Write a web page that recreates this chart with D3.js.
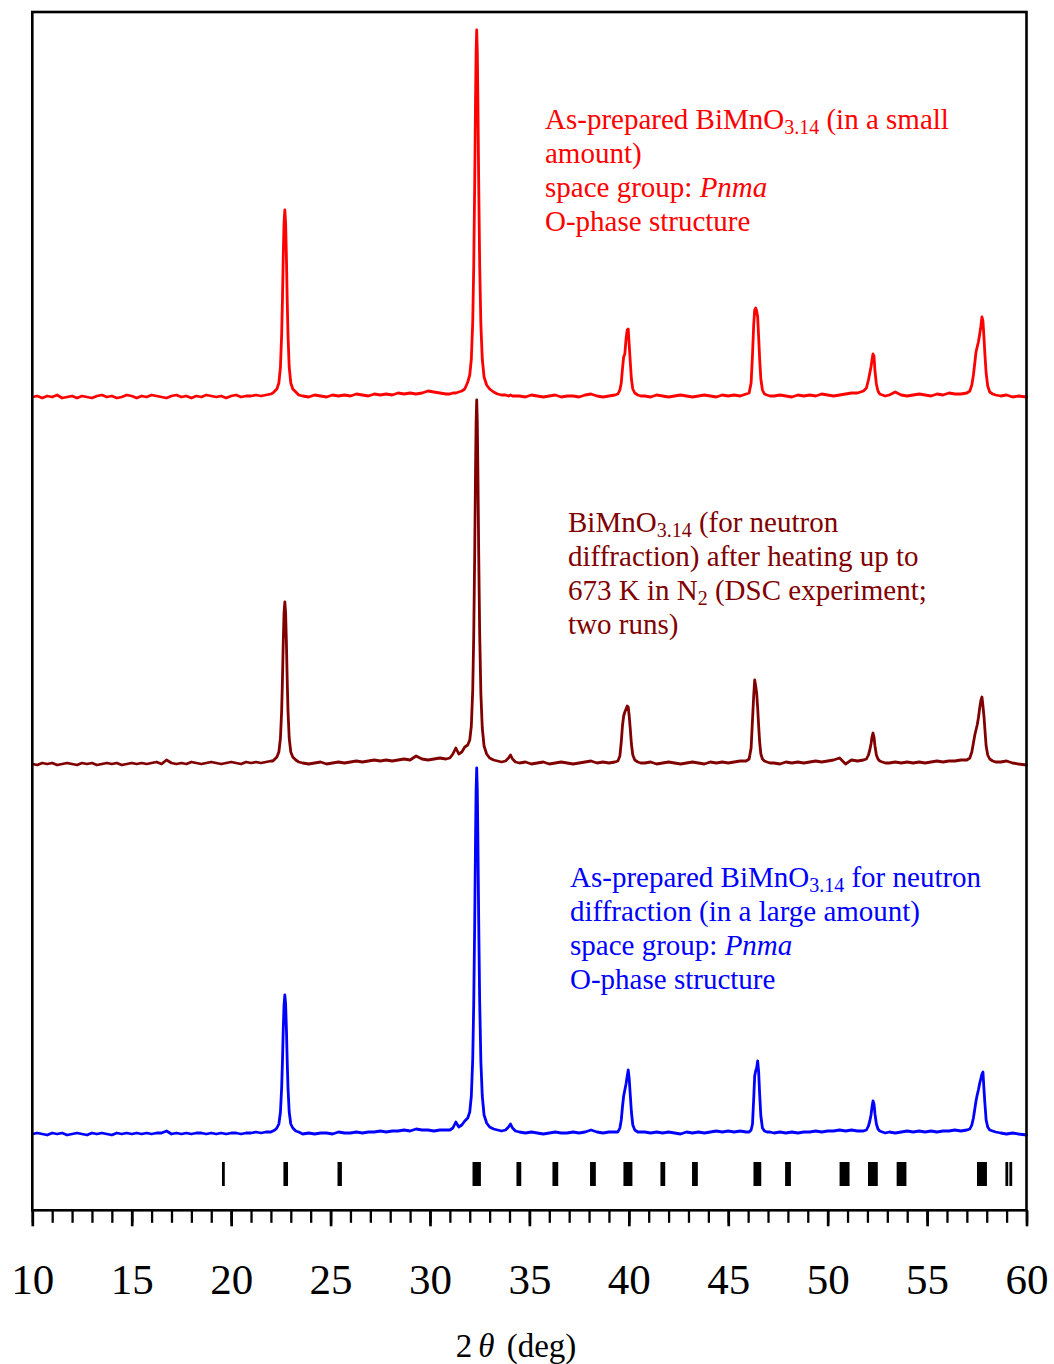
<!DOCTYPE html>
<html>
<head>
<meta charset="utf-8">
<script src="https://cdn.jsdelivr.net/npm/d3@7"></script>
<style>
  html, body { margin: 0; padding: 0; background: #fff; }
  svg { display: block; }
  text { font-family: "Liberation Serif", "Times New Roman", Times, serif; }
</style>
</head>
<body>
<script>
// ---- DATA ----
// 2θ grid (deg), shared by the three patterns
const twoTheta = [
  10,10.25,10.5,10.75,11,11.25,11.5,11.75,12,12.25,12.5,12.75,13,13.25,13.5,13.75,14,14.25,14.5,14.75,15,15.25,15.5,15.75,16,16.25,16.5,16.75,17,17.25,17.5,17.75,18,18.25,18.5,18.75,19,19.25,19.5,19.75,20,20.25,20.5,20.75,21,21.25,21.5,21.75,22,
  22.1,22.2,22.3,22.4,22.48,22.54,22.58,22.62,22.66,22.7,22.74,22.78,22.82,22.86,22.92,23,23.1,23.25,23.4,
  23.6,23.9,24.2,24.5,24.8,25.1,25.4,25.7,26,26.3,26.6,26.9,27.2,27.5,27.8,28.1,28.4,28.7,29,29.3,29.6,29.9,30.2,30.5,30.8,
  31,31.15,31.3,31.45,31.6,31.75,31.9,32,32.08,32.15,32.2,32.25,32.29,32.32,32.35,32.38,32.41,32.45,32.5,32.56,32.63,32.72,32.85,33,33.2,33.4,33.6,33.8,33.95,34.05,34.15,34.3,
  34.5,34.8,35.1,35.4,35.7,36,36.3,36.6,36.9,37.2,37.5,37.8,38.1,38.4,38.7,39,39.3,
  39.45,39.55,39.62,39.68,39.74,39.8,39.86,39.92,39.97,40.02,40.07,40.13,40.2,40.3,40.45,40.6,
  40.8,41.1,41.4,41.7,42,42.3,42.6,42.9,43.2,43.5,43.8,44.1,44.4,44.7,45,45.3,45.6,45.9,
  46.05,46.15,46.22,46.28,46.33,46.38,46.43,46.48,46.53,46.58,46.64,46.72,46.82,46.95,47.1,
  47.3,47.6,47.9,48.2,48.5,48.8,49.1,49.4,49.7,50,50.3,50.6,50.9,51.2,51.5,51.8,
  51.95,52.05,52.12,52.18,52.23,52.28,52.33,52.38,52.45,52.53,52.62,52.75,52.9,
  53.1,53.4,53.7,54,54.3,54.6,54.9,55.2,55.5,55.8,56.1,56.4,56.7,57,
  57.15,57.25,57.33,57.4,57.46,57.52,57.58,57.64,57.7,57.76,57.81,57.86,57.91,57.97,58.05,58.15,58.3,58.45,
  58.7,59,59.3,59.6,60
];

// Intensities (arb. units) above each pattern's own baseline
const redIntensity = [
  0,1,-1,1,0,2,-1,0,1,-1,1,0,-1,1,2,0,1,-1,0,2,1,-1,1,0,2,1,0,-1,1,2,0,1,-1,1,0,2,1,0,1,-1,1,2,0,1,1,2,1,2,3,
  4,6,8,14,30,62,97,140,174,187,174,140,97,62,30,14,8,5,2,
  1,0,2,1,0,2,1,2,1,3,2,1,3,2,3,2,4,3,4,3,4,6,5,4,3,
  3,4,4,5,6,8,15,22,38,75,130,215,295,345,367,345,295,215,132,72,38,20,12,8,5,3,2,2,1,2,1,1,
  1,0,2,1,0,1,2,0,1,1,0,2,3,1,0,1,2,
  3,7,14,28,40,43,58,67,68,52,36,18,8,4,2,1,
  1,0,2,1,0,1,2,1,0,1,2,1,0,2,1,2,1,3,
  4,14,42,72,87,89,86,80,60,38,18,7,3,2,1,
  1,2,1,0,2,1,2,1,3,2,1,2,3,4,4,6,
  9,17,24,30,37,43,41,26,13,6,3,2,1,
  2,5,2,1,2,3,2,1,3,2,4,3,3,4,
  6,12,22,34,45,50,55,62,70,80,76,60,42,24,11,5,3,2,
  1,2,0,1,0
];

const darkRedIntensity = [
  0,-1,1,0,1,-1,0,1,0,-1,1,0,1,-1,0,1,0,1,-1,0,1,0,1,0,1,2,0,4,1,0,1,0,2,1,0,1,2,1,0,1,2,1,0,2,1,2,1,2,3,
  3,5,7,12,26,53,84,121,151,162,151,121,84,53,26,12,7,4,2,
  1,0,1,2,0,1,2,1,2,3,2,3,4,3,4,3,4,5,4,8,5,4,5,6,5,
  6,10,16,10,12,17,19,24,38,74,128,212,292,342,364,342,292,212,130,70,36,18,10,6,4,3,2,3,6,9,5,2,
  1,2,0,1,2,0,1,2,1,0,1,2,3,1,2,1,2,
  3,8,22,38,48,52,55,58,57,48,36,20,9,4,2,1,
  1,2,0,1,2,1,0,1,2,1,0,2,1,2,1,2,3,3,
  5,16,44,68,84,78,71,56,38,22,10,5,3,2,1,
  1,0,2,1,2,1,2,3,2,3,4,6,0,4,3,4,
  5,9,14,20,27,31,27,18,9,5,3,2,1,
  1,2,1,2,1,2,1,2,3,2,3,3,4,4,
  6,12,21,29,34,39,46,55,63,67,58,48,34,18,9,5,3,2,
  2,3,1,0,-1
];

const blueIntensity = [
  0,1,0,-1,1,0,1,-1,0,1,0,-1,1,0,1,0,-1,1,0,1,0,1,0,1,0,1,1,3,0,1,0,1,0,1,1,0,1,0,1,0,1,1,0,1,1,2,1,2,2,
  3,4,6,10,22,46,72,104,129,139,130,105,73,46,22,10,6,3,2,
  0,1,0,1,1,0,2,1,1,2,1,2,2,3,2,3,3,4,3,5,4,4,3,4,4,
  4,6,12,7,9,13,16,22,38,75,130,213,294,344,366,344,294,214,132,72,38,19,11,7,5,4,3,4,7,10,6,3,
  2,1,2,1,0,1,2,1,1,2,1,2,4,2,1,2,2,
  2,6,14,27,38,44,50,58,64,55,40,22,9,4,2,2,
  2,1,2,1,2,1,0,2,1,2,1,2,3,2,3,2,3,2,
  2,4,10,35,58,63,66,73,62,40,18,6,3,2,2,
  1,2,1,2,1,2,2,3,2,3,3,4,3,4,3,3,
  4,8,13,19,27,33,30,20,10,5,3,2,1,
  2,1,2,3,2,3,2,3,2,3,3,4,3,4,
  5,9,16,25,33,39,44,50,55,60,62,45,30,14,7,4,3,2,
  1,0,1,0,-1
];

// vertical offsets of the stacked patterns (same units)
const seriesOffsets = [737, 370, 0];
const seriesColors  = ["#ff0000", "#800000", "#0000ff"];

// Bragg reflection positions (2θ, deg)
const braggPositions = [19.61, 22.70, 22.79, 25.42, 25.50, 32.21, 32.34, 32.49, 34.42, 34.52,
  36.23, 36.38, 38.12, 38.27, 39.80, 39.95, 40.11, 41.66, 41.76, 43.25, 43.40,
  46.34, 46.49, 46.59, 47.93, 48.08, 50.67, 50.85, 51.03, 52.10, 52.28, 52.45,
  53.54, 53.71, 53.89, 57.58, 57.76, 57.94, 59.01, 59.21];

// x axis tick labels
const majorTicks = [10, 15, 20, 25, 30, 35, 40, 45, 50, 55, 60];
const minorTicks = [10,11,12,13,14,15,16,17,18,19,20,21,22,23,24,25,26,27,28,29,30,31,32,33,34,35,36,37,38,39,40,41,42,43,44,45,46,47,48,49,50,51,52,53,54,55,56,57,58,59,60];

// annotation texts: [text, kind] kind: n normal, i italic, s subscript
const redLabel = [
  [["As-prepared BiMnO","n"],["3.14","s"],[" (in a small","n"]],
  [["amount)","n"]],
  [["space group: ","n"],["Pnma","i"]],
  [["O-phase structure","n"]]
];
const darkRedLabel = [
  [["BiMnO","n"],["3.14","s"],[" (for neutron","n"]],
  [["diffraction) after heating up to","n"]],
  [["673 K in N","n"],["2","s"],[" (DSC experiment;","n"]],
  [["two runs)","n"]]
];
const blueLabel = [
  [["As-prepared BiMnO","n"],["3.14","s"],[" for neutron","n"]],
  [["diffraction (in a large amount)","n"]],
  [["space group: ","n"],["Pnma","i"]],
  [["O-phase structure","n"]]
];

// ---- DRAWING ----
const W = 1054, H = 1364;
const svg = d3.select("body").append("svg").attr("width", W).attr("height", H);

const x = d3.scaleLinear().domain([10, 60]).range([32.3, 1026.5]);
const y = d3.scaleLinear().domain([-76.3, 1122]).range([1210.3, 12]);

const patterns = [redIntensity, darkRedIntensity, blueIntensity];

// draw blue first, red last
[2, 1, 0].forEach(k => {
  const vals = patterns[k];
  const off = seriesOffsets[k];
  const line = d3.line()
    .x((d, i) => x(twoTheta[i]))
    .y(d => y(d + off));
  svg.append("path")
    .datum(vals.slice(0, twoTheta.length))
    .attr("d", line)
    .attr("fill", "none")
    .attr("stroke", seriesColors[k])
    .attr("stroke-width", 2.8)
    .attr("stroke-linejoin", "round")
    .attr("stroke-linecap", "round");
});

// Bragg markers: neighbouring reflections merge into one bar
const sortedBragg = braggPositions.slice().sort((a, b) => a - b);
const braggGroups = [];
sortedBragg.forEach(p => {
  const g = braggGroups[braggGroups.length - 1];
  if (g && p - g[1] < 0.19) g[1] = p; else braggGroups.push([p, p]);
});
const markHalf = 1.4;
svg.append("g").selectAll("rect").data(braggGroups).join("rect")
  .attr("x", d => x(d[0]) - markHalf)
  .attr("width", d => x(d[1]) - x(d[0]) + 2 * markHalf)
  .attr("y", y(-28)).attr("height", y(-52) - y(-28))
  .attr("fill", "#000");

// frame
svg.append("rect")
  .attr("x", x(10)).attr("y", y(1122))
  .attr("width", x(60) - x(10)).attr("height", y(-76.3) - y(1122))
  .attr("fill", "none").attr("stroke", "#000").attr("stroke-width", 2.6);

// x axis: minor ticks
const gMinor = svg.append("g").attr("transform", `translate(0,${y(-76.3)})`)
  .call(d3.axisBottom(x).tickValues(minorTicks).tickSize(12.5).tickFormat(""));
gMinor.select(".domain").remove();
gMinor.selectAll(".tick line").attr("stroke-width", 2.3).attr("stroke", "#000");

// x axis: major ticks + labels
const gMajor = svg.append("g").attr("transform", `translate(0,${y(-76.3)})`)
  .call(d3.axisBottom(x).tickValues(majorTicks).tickSize(16).tickPadding(37).tickFormat(d3.format("d")));
gMajor.select(".domain").remove();
gMajor.selectAll(".tick line").attr("stroke-width", 2.7).attr("stroke", "#000");
gMajor.selectAll(".tick text")
  .attr("font-family", '"Liberation Serif", "Times New Roman", serif')
  .attr("font-size", 43).attr("fill", "#000");

// axis title
const xt = svg.append("text")
  .attr("x", 516).attr("y", 1357)
  .attr("text-anchor", "middle")
  .attr("font-size", 33).attr("fill", "#000");
xt.append("tspan").text("2");
xt.append("tspan").attr("font-style", "italic").attr("dx", 6).text("θ");
xt.append("tspan").attr("dx", 4).text(" (deg)");

// annotations
function drawLabel(lines, x0, y0, color) {
  const fs = 29, lh = 34;
  lines.forEach((segs, li) => {
    const t = svg.append("text")
      .attr("x", x0).attr("y", y0 + li * lh)
      .attr("font-size", fs).attr("fill", color);
    let shifted = false;
    segs.forEach(([txt, kind]) => {
      const ts = t.append("tspan").text(txt);
      if (kind === "i") ts.attr("font-style", "italic");
      if (kind === "s") {
        ts.attr("font-size", 20).attr("dy", 5);
        shifted = true;
      } else if (shifted) {
        ts.attr("dy", -5);
        shifted = false;
      }
    });
  });
}
drawLabel(redLabel, 545, 129, seriesColors[0]);
drawLabel(darkRedLabel, 568, 532, seriesColors[1]);
drawLabel(blueLabel, 570, 887, seriesColors[2]);
</script>
</body>
</html>
